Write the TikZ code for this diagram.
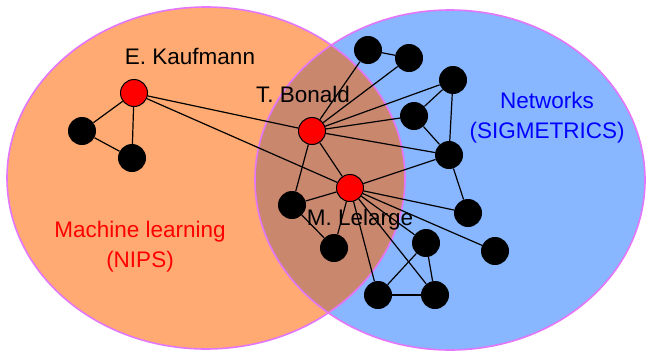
\documentclass[tikz,border=0pt]{standalone}
\usepackage{fontspec}
\setmainfont{Liberation Sans}
\definecolor{mlorange}{RGB}{255,170,114}
\definecolor{netblue}{RGB}{136,182,255}
\definecolor{bothbrown}{RGB}{201,135,110}
\definecolor{rimviolet}{RGB}{228,118,250}
\begin{document}
\begin{tikzpicture}[x=1pt,y=-1pt,
    author/.style={shape=circle,draw=black,fill=red,line width=1pt,minimum size=27pt,inner sep=0pt},
    member/.style={shape=circle,fill=black,minimum size=28pt,inner sep=0pt},
    nametag/.style={anchor=base,font=\fontsize{22.5}{27}\selectfont},
    every edge/.append style={line width=1.2pt}]
              \useasboundingbox (0,0) rectangle (647,351);

              % the two communities
              \fill[mlorange] (206,178) ellipse [x radius=199pt, y radius=171pt];
              \fill[netblue] (450,180) ellipse [x radius=195pt, y radius=170pt];
              \begin{scope}
                \clip (206,178) ellipse [x radius=199pt, y radius=171pt];
                \fill[bothbrown] (450,180) ellipse [x radius=195pt, y radius=170pt];
              \end{scope}
              \draw[rimviolet,line width=1.6pt] (206,178) ellipse [x radius=199pt, y radius=171pt];
              \draw[rimviolet,line width=1.6pt] (450,180) ellipse [x radius=195pt, y radius=170pt];

              \node[author] (1) at (134,93) {};
              \node[member] (2) at (82,131) {};
              \node[member] (3) at (132,158) {};
              \node[author] (4) at (312,131) {};
              \node[author] (5) at (350,188) {};
              \node[member] (6) at (292,205) {};
              \node[member] (7) at (334,248) {};
              \node[member] (8) at (368,50) {};
              \node[member] (9) at (409,58) {};
              \node[member] (10) at (453,80) {};
              \node[member] (11) at (414,116) {};
              \node[member] (12) at (449,155) {};
              \node[member] (13) at (468,213) {};
              \node[member] (14) at (495,251) {};
              \node[member] (15) at (426,243) {};
              \node[member] (16) at (378,295) {};
              \node[member] (17) at (435,295) {};

              \path (1) edge (2) (1) edge (3) (2) edge (3);
              \path (1) edge (4) (1) edge (5);
              \path (4) edge (8) (4) edge (9) (4) edge (10) (4) edge (11) (4) edge (12);
              \path (4) edge (6) (4) edge (5);
              \path (8) edge (9) (10) edge (11) (10) edge (12) (11) edge (12) (12) edge (13);
              \path (5) edge (12) (5) edge (13) (5) edge (14) (5) edge (15);
              \path (5) edge (16) (5) edge (17) (5) edge (7) (5) edge (6);
              \path (6) edge (7);
              \path (15) edge (16) (15) edge (17) (16) edge (17);

              \node[nametag] (kaufmann) at (190,64) {E. Kaufmann};
              \node[nametag] (bonald) at (303,102) {T. Bonald};
              \node[nametag] (lelarge) at (360,225) {M. Lelarge};
              \node[nametag,text=red] (ml) at (140,237) {Machine learning};
              \node[nametag,text=red] (nips) at (140,267) {(NIPS)};
              \node[nametag,text=blue] (net) at (547,108) {Networks};
              \node[nametag,text=blue] (sig) at (547,138) {(SIGMETRICS)};
          \end{tikzpicture}
\end{document}
